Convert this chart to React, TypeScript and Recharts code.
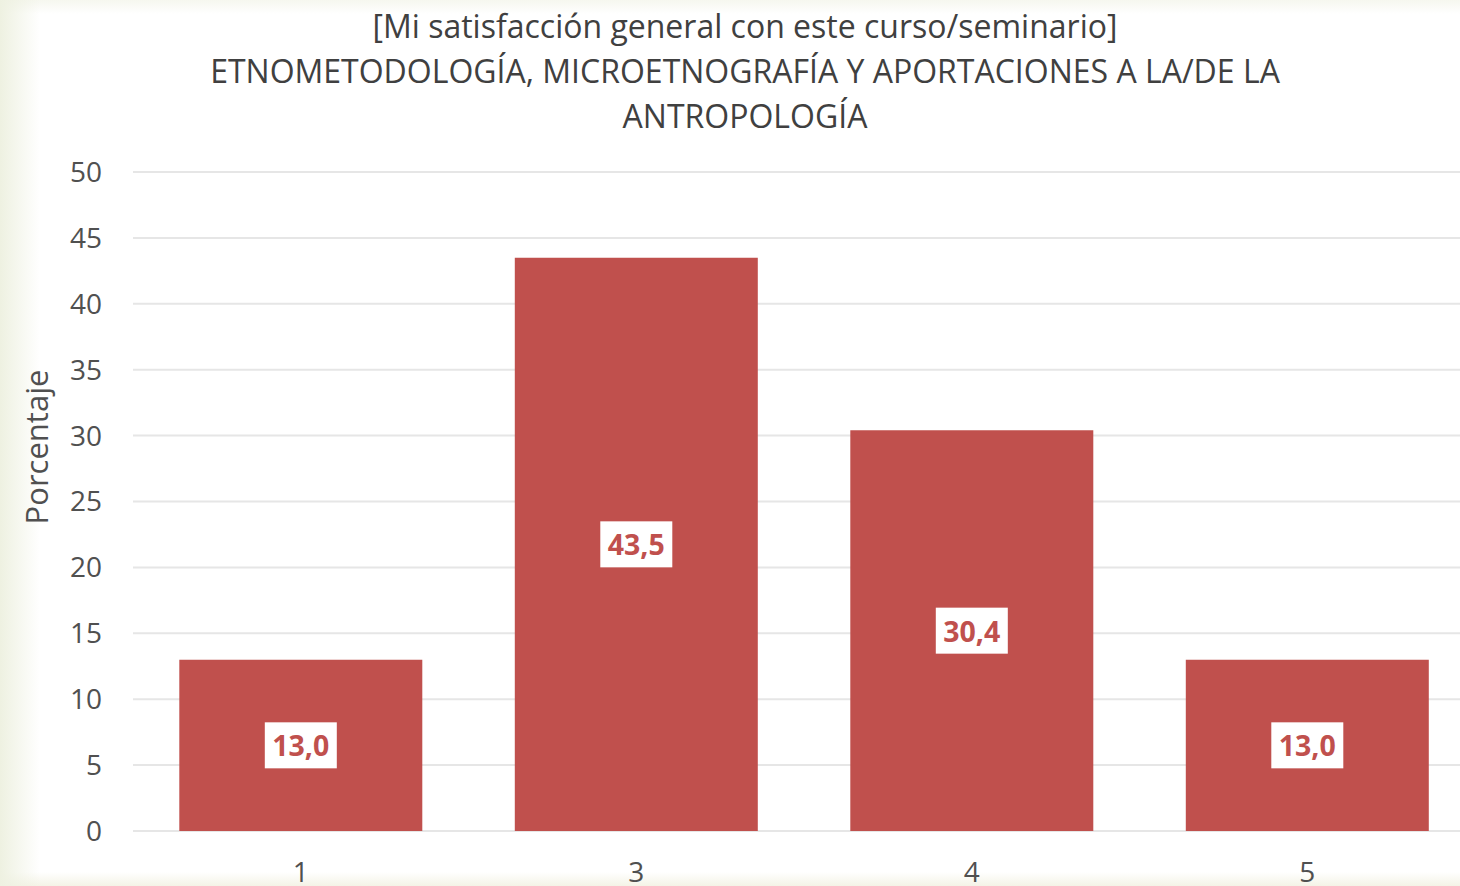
import React from 'react';
import { BarChart, Bar, XAxis, YAxis, CartesianGrid, LabelList } from 'recharts';

const categories = ['1', '3', '4', '5'];
const percentages = [13.0, 43.5, 30.4, 13.0];
const yTicks = [0, 5, 10, 15, 20, 25, 30, 35, 40, 45, 50];
const titleLines = [
  '[Mi satisfacción general con este curso/seminario]',
  'ETNOMETODOLOGÍA, MICROETNOGRAFÍA Y APORTACIONES A LA/DE LA',
  'ANTROPOLOGÍA',
];
const yAxisTitle = 'Porcentaje';

const data = categories.map((c, i) => ({ category: c, value: percentages[i] }));

const FONT = '"Open Sans", "Liberation Sans", sans-serif';
const BAR_COLOR = '#C0504D';
const TEXT_COLOR = '#505050';

const fmt = (v: number) => v.toFixed(1).replace('.', ',');

const ValueLabel = (props: any) => {
  const { x, y, width, height, value } = props;
  const cx = Number(x) + Number(width) / 2;
  const cy = Number(y) + Number(height) / 2;
  const bw = 72;
  const bh = 46;
  return (
    <g>
      <rect x={cx - bw / 2} y={cy - bh / 2} width={bw} height={bh} fill="#ffffff" />
      <text
        x={cx}
        y={cy}
        textAnchor="middle"
        dominantBaseline="central"
        fill={BAR_COLOR}
        fontFamily={FONT}
        fontWeight={700}
        fontSize={28.5}
      >
        {fmt(Number(value))}
      </text>
    </g>
  );
};

export default function App() {
  return (
    <div
      style={{
        position: 'absolute',
        left: 0,
        top: 0,
        width: 1460,
        height: 886,
        overflow: 'hidden',
        background:
          'linear-gradient(to right, #eef1e1 0px, rgba(255,255,255,0) 40px), linear-gradient(to bottom, #f6f7ef 0px, #ffffff 14px, #ffffff 872px, #f4f3e6 886px)',
      }}
    >
      <BarChart
        width={1475}
        height={886}
        data={data}
        margin={{ top: 172, right: 0, bottom: 0, left: 0 }}
        barCategoryGap="13.8%"
      >
        <CartesianGrid vertical={false} stroke="#e6e6e6" strokeWidth={2} />
        <XAxis
          dataKey="category"
          axisLine={false}
          tickLine={false}
          tickSize={0}
          tickMargin={31}
          height={55}
          tick={{ fill: TEXT_COLOR, fontSize: 28, fontFamily: FONT }}
          interval={0}
        />
        <YAxis
          domain={[0, 50]}
          ticks={yTicks}
          axisLine={false}
          tickLine={false}
          tickSize={0}
          tickMargin={31}
          width={133}
          tick={{ fill: TEXT_COLOR, fontSize: 28, fontFamily: FONT }}
          interval={0}
        />
        <Bar dataKey="value" fill={BAR_COLOR} isAnimationActive={false}>
          <LabelList dataKey="value" content={<ValueLabel />} />
        </Bar>
      </BarChart>
      <svg
        width={1460}
        height={886}
        style={{ position: 'absolute', left: 0, top: 0, pointerEvents: 'none' }}
      >
        {titleLines.map((line, i) => (
          <text
            key={i}
            x={745}
            y={38 + i * 45}
            textAnchor="middle"
            fill="#404040"
            fontFamily={FONT}
            fontSize={32}
          >
            {line}
          </text>
        ))}
        <text
          x={48}
          y={447}
          transform="rotate(-90 48 447)"
          textAnchor="middle"
          fill={TEXT_COLOR}
          fontFamily={FONT}
          fontSize={31}
        >
          {yAxisTitle}
        </text>
      </svg>
    </div>
  );
}
